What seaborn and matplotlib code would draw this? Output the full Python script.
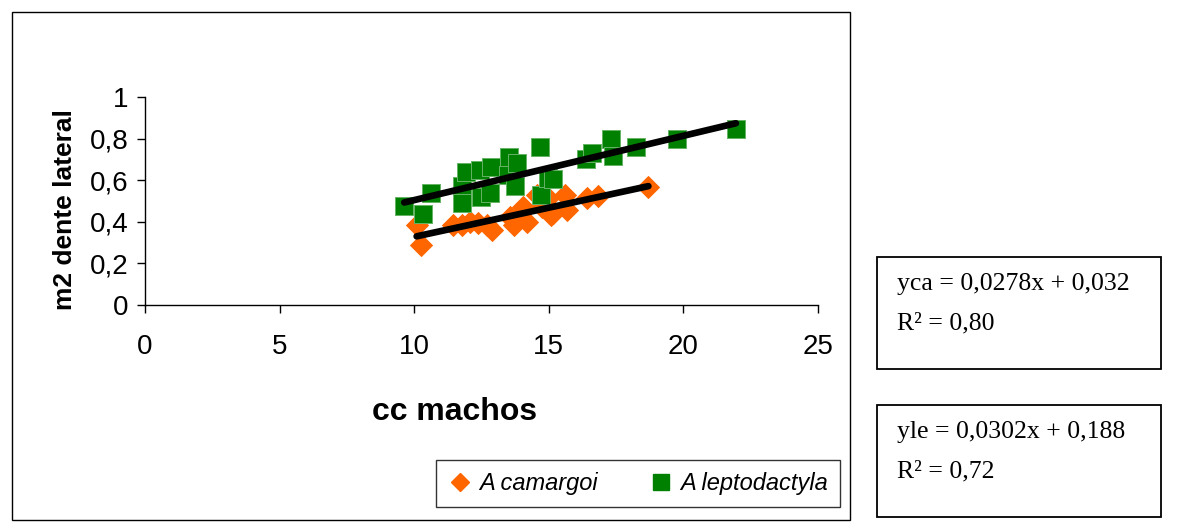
import numpy as np
import pandas as pd
import matplotlib
matplotlib.use("Agg")
import matplotlib.pyplot as plt
from matplotlib.patches import Rectangle
import seaborn as sns

# values
ca_x = [10.09, 10.25, 11.45, 11.76, 12.07, 12.38, 12.69, 12.9, 13.56, 13.72,
        14.05, 14.18, 14.55, 14.74, 14.98, 15.1, 15.17, 15.6, 15.66, 16.41, 16.84, 18.7]
ca_y = [0.385, 0.288, 0.385, 0.385, 0.40, 0.393, 0.385, 0.36, 0.425, 0.385,
        0.473, 0.40, 0.529, 0.473, 0.513, 0.433, 0.441, 0.529, 0.457, 0.513, 0.524, 0.566]

le_x = [9.63, 10.34, 10.62, 11.76, 11.76, 11.92, 12.44, 12.48, 12.84, 12.82,
        13.52, 13.47, 13.81, 13.74, 14.67, 14.7, 14.97, 15.17, 16.4, 16.6,
        17.31, 17.4, 18.23, 19.75, 21.95]
le_y = [0.476, 0.4375, 0.54, 0.572, 0.49, 0.638, 0.649, 0.518, 0.662, 0.537,
        0.713, 0.625, 0.681, 0.572, 0.758, 0.529, 0.61, 0.604, 0.70, 0.73,
        0.797, 0.716, 0.758, 0.797, 0.846]

species = ["A camargoi", "A leptodactyla"]
colors = ["#FF6600", "#008000"]
edge_colors = ["#FF6600", "#66B366"]
markers = ["D", "s"]
marker_sizes = [125, 150]
x_ticks = [0, 5, 10, 15, 20, 25]
y_ticks = [0, 0.2, 0.4, 0.6, 0.8, 1]
y_tick_labels = ["0", "0,2", "0,4", "0,6", "0,8", "1"]
eq_texts = [("yca = 0,0278x + 0,032", "R² = 0,80"),
            ("yle = 0,0302x + 0,188", "R² = 0,72")]

df = pd.concat([
    pd.DataFrame({"cc": ca_x, "m2": ca_y, "sp": species[0]}),
    pd.DataFrame({"cc": le_x, "m2": le_y, "sp": species[1]}),
])

sns.set_style("white")
plt.rcParams["font.family"] = ["Liberation Sans", "DejaVu Sans"]
plt.rcParams["text.color"] = "black"
plt.rcParams["xtick.color"] = "black"
plt.rcParams["ytick.color"] = "black"

fig = plt.figure(figsize=(11.81, 5.31), dpi=100)
ax = fig.add_axes([145 / 1181, 1 - 305 / 531, 673 / 1181, 208 / 531])

for sp, col, ec, mk, ms in zip(species, colors, edge_colors, markers, marker_sizes):
    sub = df[df["sp"] == sp]
    sns.scatterplot(data=sub, x="cc", y="m2", color=col, marker=mk, s=ms,
                    edgecolor=ec, linewidth=0.7, ax=ax, zorder=3)
for sp in species:
    sub = df[df["sp"] == sp]
    sns.regplot(data=sub, x="cc", y="m2", scatter=False, ci=None,
                color="black", line_kws={"lw": 4.8, "solid_capstyle": "round",
                                         "zorder": 4}, ax=ax)

ax.set_xlim(0, 25)
ax.set_ylim(0, 1)
ax.set_xticks(x_ticks)
ax.set_xticklabels([str(t) for t in x_ticks])
ax.set_yticks(y_ticks)
ax.set_yticklabels(y_tick_labels)
ax.tick_params(axis="x", direction="out", length=6, width=1, pad=15,
               labelsize=20, bottom=True, colors="black")
ax.tick_params(axis="y", direction="out", length=6, width=1, pad=6,
               labelsize=20, left=True, colors="black")
for s in ["top", "right"]:
    ax.spines[s].set_visible(False)
for s in ["left", "bottom"]:
    ax.spines[s].set_color("black")
    ax.spines[s].set_linewidth(1)
ax.set_xlabel("")
ax.set_ylabel("")

fig.text(455 / 1181, 1 - 412 / 531, "cc machos", fontsize=23, fontweight="bold",
         ha="center", va="center")
fig.text(65 / 1181, 1 - 210 / 531, "m2 dente lateral", fontsize=19,
         fontweight="bold", rotation=90, ha="center", va="center")

# legend
handles = [
    plt.Line2D([], [], marker="D", color=colors[0], ls="none", markersize=9),
    plt.Line2D([], [], marker="s", color=colors[1], ls="none", markersize=12),
]
lg = fig.legend(handles, species, loc="center",
                bbox_to_anchor=(638 / 1181, 1 - 483.5 / 531), ncol=2,
                prop={"style": "italic", "size": 17}, frameon=True,
                fancybox=False, edgecolor="black", handletextpad=0.3,
                columnspacing=2.2, borderpad=0.5, handlelength=1.0)
lg.get_frame().set_linewidth(1)

# chart border
fig.patches.append(Rectangle((12 / 1181, 1 - 520 / 531), 838 / 1181, 508 / 531,
                             transform=fig.transFigure, fill=False,
                             edgecolor="black", lw=1))

# equation boxes
for (eq, r2), top in zip(eq_texts, [257, 405]):
    fig.patches.append(Rectangle((877 / 1181, 1 - (top + 112) / 531),
                                 284 / 1181, 112 / 531,
                                 transform=fig.transFigure, fill=False,
                                 edgecolor="black", lw=1.3))
    fig.text(897 / 1181, 1 - (top + 27) / 531, eq, fontsize=18.5,
             family="Liberation Serif", va="center")
    fig.text(897 / 1181, 1 - (top + 66) / 531, r2, fontsize=18.5,
             family="Liberation Serif", va="center")

fig.savefig("out.png", dpi=100)
